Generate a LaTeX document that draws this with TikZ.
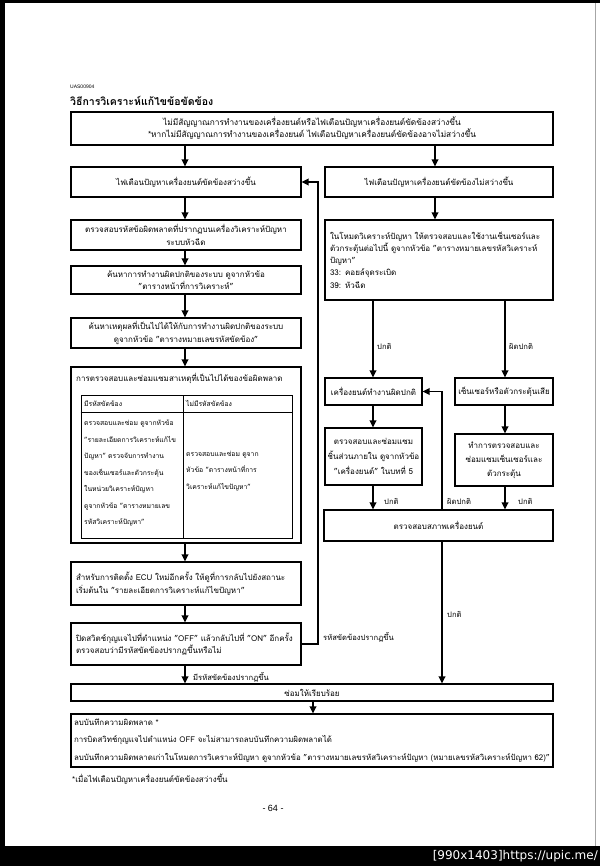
\documentclass[tikz,border=0pt]{standalone}
\usepackage{fontspec}
\setmainfont[Script=Thai]{Loma}
\newfontfamily\latinfont{Liberation Sans}
\newfontfamily\markfont{DejaVu Sans}
\usetikzlibrary{arrows.meta}
\begin{document}
\begin{tikzpicture}[x=1pt,y=-1pt,
  font=\fontsize{8}{12.5}\selectfont,
  box/.style={draw, line width=1.1pt, inner sep=0pt, align=center},
  lbox/.style={draw, line width=1.1pt, inner xsep=5pt, inner ysep=0pt, align=left},
  arr/.style={line width=1.8pt, -{Triangle[length=7pt,width=6.5pt]}},
  lbl/.style={inner sep=0pt, anchor=west, font=\fontsize{7.6}{9}\selectfont},
  cell/.style={inner sep=0pt, anchor=west, align=left, font=\fontsize{6.8}{16.5}\selectfont}]
\useasboundingbox (0,0) rectangle (600,866);
% page frame
\fill[black] (0,0) rectangle (600,3);
\fill[black] (0,0) rectangle (5,846);
\draw[gray!70, line width=1pt] (595,3) -- (595,846);
\fill[black] (0,846) rectangle (600,866);
\node[inner sep=0pt, anchor=east, text=white, font=\markfont\fontsize{12}{13}\selectfont] (mark) at (598,856) {[990x1403]https://upic.me/};
% headings
\node[inner sep=0pt, anchor=west, font=\latinfont\fontsize{5}{6}\selectfont] (code) at (70,87) {UAS00904};
\node[inner sep=0pt, anchor=west, font=\bfseries\fontsize{10.5}{12}\selectfont] (title) at (70,101) {วิธีการวิเคราะห์แก้ไขข้อขัดข้อง};
% helper coordinates
\coordinate (cL) at (185,0);
\coordinate (cR) at (435,0);
\coordinate (cRa) at (373,0);
\coordinate (cRb) at (505,0);
\coordinate (cE) at (442,0);
\coordinate (cM) at (313,0);
\coordinate (cB) at (318,0);
% boxes
\node[box, minimum width=482, minimum height=33, font=\fontsize{8.3}{12}\selectfont] (top) at (312,128.5) {ไม่มีสัญญาณการทำงานของเครื่องยนต์หรือไฟเตือนปัญหาเครื่องยนต์ขัดข้องสว่างขึ้น\\*หากไม่มีสัญญาณการทำงานของเครื่องยนต์ ไฟเตือนปัญหาเครื่องยนต์ขัดข้องอาจไม่สว่างขึ้น};
\node[box, minimum width=230, minimum height=30] (L1) at (186,182) {ไฟเตือนปัญหาเครื่องยนต์ขัดข้องสว่างขึ้น};
\node[box, minimum width=228, minimum height=30] (R1) at (439,182) {ไฟเตือนปัญหาเครื่องยนต์ขัดข้องไม่สว่างขึ้น};
\node[box, minimum width=230, minimum height=30] (L2) at (186,235) {ตรวจสอบรหัสข้อผิดพลาดที่ปรากฏบนเครื่องวิเคราะห์ปัญหา\\ระบบหัวฉีด};
\node[box, minimum width=230, minimum height=28] (L3) at (186,280) {ค้นหาการทำงานผิดปกติของระบบ ดูจากหัวข้อ\\"ตารางหน้าที่การวิเคราะห์"};
\node[box, minimum width=230, minimum height=30] (L4) at (186,333) {ค้นหาเหตุผลที่เป็นไปได้ให้กับการทำงานผิดปกติของระบบ\\ดูจากหัวข้อ "ตารางหมายเลขรหัสขัดข้อง"};
\node[box, minimum width=230, minimum height=176] (L5) at (186,455) {};
\node[inner sep=0pt, anchor=west] (L5t) at (76,378) {การตรวจสอบและซ่อมแซมสาเหตุที่เป็นไปได้ของข้อผิดพลาด};
\node[draw, line width=0.9pt, inner sep=0pt, minimum width=211, minimum height=143] (tbl) at (186.5,466.5) {};
\draw[line width=0.9pt] (tbl.north west |- 0,412) -- (tbl.north east |- 0,412);
\draw[line width=0.9pt] (183,395) -- (183,538);
\node[cell] (h1) at (84,403.5) {มีรหัสขัดข้อง};
\node[cell] (h2) at (186,403.5) {ไม่มีรหัสขัดข้อง};
\node[cell] (c1) at (84,473) {ตรวจสอบและซ่อม ดูจากหัวข้อ\\"รายละเอียดการวิเคราะห์แก้ไข\\ปัญหา" ตรวจจับการทำงาน\\ของเซ็นเซอร์และตัวกระตุ้น\\ในหน่วยวิเคราะห์ปัญหา\\ดูจากหัวข้อ "ตารางหมายเลข\\รหัสวิเคราะห์ปัญหา"};
\node[cell] (c2) at (186,471) {ตรวจสอบและซ่อม ดูจาก\\หัวข้อ "ตารางหน้าที่การ\\วิเคราะห์แก้ไขปัญหา"};
\node[lbox, minimum width=230, minimum height=43, text width=220] (L6) at (186,583.5) {สำหรับการติดตั้ง ECU ใหม่อีกครั้ง ให้ดูที่การกลับไปยังสถานะ\\เริ่มต้นใน "รายละเอียดการวิเคราะห์แก้ไขปัญหา"};
\node[lbox, minimum width=230, minimum height=42, text width=220] (L7) at (186,644) {ปิดสวิตช์กุญแจไปที่ตำแหน่ง "OFF" แล้วกลับไปที่ "ON" อีกครั้ง\\ตรวจสอบว่ามีรหัสขัดข้องปรากฏขึ้นหรือไม่};
\node[lbox, minimum width=228, minimum height=80, text width=218, font=\fontsize{8}{12.3}\selectfont] (R2) at (439,260) {ในโหมดวิเคราะห์ปัญหา ให้ตรวจสอบและใช้งานเซ็นเซอร์และ\\ตัวกระตุ้นต่อไปนี้ ดูจากหัวข้อ "ตารางหมายเลขรหัสวิเคราะห์\\ปัญหา"\\33: คอยล์จุดระเบิด\\39: หัวฉีด};
\node[box, minimum width=97, minimum height=27] (R3a) at (373.5,391.5) {เครื่องยนต์ทำงานผิดปกติ};
\node[box, minimum width=98, minimum height=27] (R3b) at (504,391.5) {เซ็นเซอร์หรือตัวกระตุ้นเสีย};
\node[box, minimum width=97, minimum height=57, font=\fontsize{8}{15}\selectfont] (R4a) at (373.5,456.5) {ตรวจสอบและซ่อมแซม\\ชิ้นส่วนภายใน ดูจากหัวข้อ\\"เครื่องยนต์" ในบทที่ 5};
\node[box, minimum width=98, minimum height=52, font=\fontsize{8}{14}\selectfont] (R4b) at (504,460) {ทำการตรวจสอบและ\\ซ่อมแซมเซ็นเซอร์และ\\ตัวกระตุ้น};
\node[box, minimum width=229, minimum height=31] (eng) at (438.5,525.5) {ตรวจสอบสภาพเครื่องยนต์};
\node[box, minimum width=482, minimum height=17] (rep) at (312,692.5) {ซ่อมให้เรียบร้อย};
\node[lbox, minimum width=482, minimum height=53, inner xsep=3pt, text width=476, font=\fontsize{7.9}{17.5}\selectfont] (fin) at (312,740.5) {ลบบันทึกความผิดพลาด *\\การบิดสวิทช์กุญแจไปตำแหน่ง OFF จะไม่สามารถลบบันทึกความผิดพลาดได้\\ลบบันทึกความผิดพลาดเก่าในโหมดการวิเคราะห์ปัญหา ดูจากหัวข้อ "ตารางหมายเลขรหัสวิเคราะห์ปัญหา (หมายเลขรหัสวิเคราะห์ปัญหา 62)"};
\node[inner sep=0pt, anchor=west] (foot) at (72,779) {*เมื่อไฟเตือนปัญหาเครื่องยนต์ขัดข้องสว่างขึ้น};
\node[inner sep=0pt, font=\latinfont\fontsize{9}{10}\selectfont] (page) at (273,808) {- 64 -};
% arrows
\draw[arr] (top.south -| cL) -- (L1.north -| cL);
\draw[arr] (top.south -| cR) -- (R1.north -| cR);
\draw[arr] (L1.south -| cL) -- (L2.north -| cL);
\draw[arr] (L2.south -| cL) -- (L3.north -| cL);
\draw[arr] (L3.south -| cL) -- (L4.north -| cL);
\draw[arr] (L4.south -| cL) -- (L5.north -| cL);
\draw[arr] (L5.south -| cL) -- (L6.north -| cL);
\draw[arr] (L6.south -| cL) -- (L7.north -| cL);
\draw[arr] (L7.south -| cL) -- (rep.north -| cL);
\draw[arr] (R1.south -| cR) -- (R2.north -| cR);
\draw[arr] (R2.south -| cRa) -- (R3a.north -| cRa);
\draw[arr] (R2.south -| cRb) -- (R3b.north -| cRb);
\draw[arr] (R3a.south -| cRa) -- (R4a.north -| cRa);
\draw[arr] (R3b.south -| cRb) -- (R4b.north -| cRb);
\draw[arr] (R4a.south -| cRa) -- (eng.north -| cRa);
\draw[arr] (R4b.south -| cRb) -- (eng.north -| cRb);
\draw[arr] (eng.north -| cE) |- (R3a.east);
\draw[arr] (eng.south -| cE) -- (rep.north -| cE);
\draw[arr] (L7.east) -| (cB |- L1.east) -- (L1.east);
\draw[arr] (rep.south -| cM) -- (fin.north -| cM);
% labels
\node[lbl] (n1) at (377,346) {ปกติ};
\node[lbl] (n2) at (509,346) {ผิดปกติ};
\node[lbl] (n3) at (384,501) {ปกติ};
\node[lbl] (n4) at (447,501) {ผิดปกติ};
\node[lbl] (n5) at (518,501) {ปกติ};
\node[lbl] (n6) at (447,614) {ปกติ};
\node[lbl] (n7) at (323,637) {รหัสขัดข้องปรากฏขึ้น};
\node[lbl] (n8) at (193,677) {มีรหัสขัดข้องปรากฏขึ้น};
\end{tikzpicture}
\end{document}
